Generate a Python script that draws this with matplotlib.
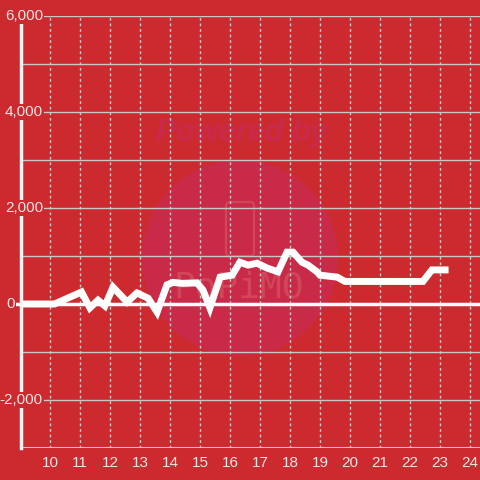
import matplotlib.pyplot as plt
from matplotlib.patches import Circle, FancyBboxPatch
import matplotlib.transforms as mtrans

plt.rcParams['font.family'] = ['Liberation Sans', 'DejaVu Sans']

### data ###
hours = [9.0, 10.15, 11.05, 11.33, 11.6, 11.83, 12.1, 12.57, 12.9, 13.27, 13.57,
         13.9, 14.1, 14.4, 14.9, 15.1, 15.33, 15.67, 16.07, 16.33, 16.6, 16.9,
         17.23, 17.6, 17.9, 18.1, 18.4, 18.6, 18.9, 19.0, 19.57, 19.83, 22.43,
         22.73, 23.17]
values = [0, 0, 250, -80, 80, -40, 350, 40, 230, 120, -170,
          400, 450, 430, 440, 290, -80, 560, 600, 870, 810, 850,
          750, 670, 1080, 1080, 870, 810, 670, 600, 560, 470, 470,
          710, 710]

xticks = list(range(10, 25))
yticks = [6000, 4000, 2000, 0, -2000]
ylabels = ['6,000', '4,000', '2,000', '0', '-2,000']

bg = '#cc2a2e'
grid = '#c8c8c8'
txt = '#f4e4e4'

fig = plt.figure(figsize=(4.8, 4.8), dpi=100, facecolor=bg)
ax = fig.add_axes([21/480, 1 - 448/480, 1 - 21/480, (448 - 16)/480])
ax.set_facecolor(bg)
ax.set_xlim(10 - 29/30, 10 + 430/30)
ax.set_ylim(-3000, 6000)

# watermark (behind grid)
ax.add_patch(Circle((0.5, 1 - 258/480), 98/480, transform=fig.transFigure,
                    facecolor='#c92a47', edgecolor='none', zorder=0))
ax.text(0.503, 1 - 133/480, 'Powered by', transform=fig.transFigure,
        ha='center', va='center', fontsize=22, fontweight='bold',
        style='italic', color='#c92a4c', zorder=1)
ax.add_patch(FancyBboxPatch((226/480, 1 - 256/480), 28/480, 54/480,
                            boxstyle='round,pad=0,rounding_size=0.008',
                            transform=fig.transFigure, facecolor='none',
                            edgecolor='#d14658', lw=1.6, zorder=1))
ax.text(0.497, 1 - 288/480, 'PoPiMO', transform=fig.transFigure,
        ha='center', va='center', fontsize=26, color='#d14658', zorder=1,
        family='DejaVu Sans Mono')

# grid
ax.set_yticks(range(-3000, 6001, 1000))
ax.set_xticks(xticks)
ax.set_axisbelow(False)
ax.grid(axis='y', color=grid, lw=1)
ax.grid(axis='x', color=grid, lw=1, ls=(0, (2, 2)))
for s in ax.spines.values():
    s.set_visible(False)
ax.axhline(-3000, color=grid, lw=1.5, zorder=3)
ax.tick_params(axis='x', length=0, pad=6, labelsize=11, labelcolor=txt)
ax.tick_params(axis='y', length=0, labelleft=False)

# series
ax.plot(hours, values, color='white', lw=5, zorder=4, solid_joinstyle='miter')
ax.axhline(0, xmin=-0.01, color='white', lw=2.5, zorder=5, clip_on=False)
ax.axvline(ax.get_xlim()[0], ymax=(448 - 24)/432, color='#f2f2f2', lw=2.5,
           zorder=5, clip_on=False)

tr = mtrans.blended_transform_factory(ax.transAxes, ax.transData)
for v, lab in zip(yticks, ylabels):
    xpos = 22/459 if v != 0 else -6/459
    ax.text(xpos, v, lab, transform=tr, ha='right', va='center', fontsize=11,
            color=txt, zorder=6, clip_on=False,
            bbox=dict(facecolor=bg, edgecolor='none', pad=1))

plt.savefig('out.png', dpi=100, facecolor=bg)
